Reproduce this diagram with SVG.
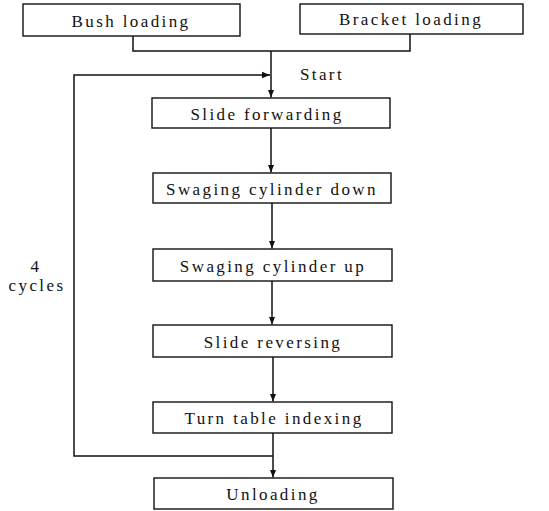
<svg xmlns="http://www.w3.org/2000/svg" width="549" height="511" viewBox="0 0 549 511">
<defs>
<marker id="ah" markerWidth="8" markerHeight="8" refX="8" refY="4" orient="auto" markerUnits="userSpaceOnUse">
<path d="M0,0.8 L8,4 L0,7.2 Z" fill="#111"/>
</marker>
<style>
.box{fill:#fff;stroke:#111;stroke-width:1.4}
.t{font-family:"Liberation Serif","Times New Roman",serif;font-size:17px;letter-spacing:2.4px;fill:#111;text-anchor:middle}
.c{fill:none;stroke:#111;stroke-width:1.5}
</style>
</defs>
<rect width="549" height="511" fill="#fff"/>
<g id="connectors">
<polyline class="c" points="133,36 133,51 410,51 410,34"/>
<line class="c" x1="271" y1="51" x2="271" y2="97.5" marker-end="url(#ah)"/>
<polyline class="c" points="273,456 74,456 74,75 270,75" marker-end="url(#ah)"/>
<line class="c" x1="271" y1="128" x2="271" y2="172.5" marker-end="url(#ah)"/>
<line class="c" x1="272" y1="203" x2="272" y2="248.5" marker-end="url(#ah)"/>
<line class="c" x1="272" y1="281" x2="272" y2="324.5" marker-end="url(#ah)"/>
<line class="c" x1="273" y1="357" x2="273" y2="401.5" marker-end="url(#ah)"/>
<line class="c" x1="273" y1="433" x2="273" y2="477.5" marker-end="url(#ah)"/>
<text class="t" x="322" y="80">Start</text>
<text class="t" x="36" y="272">4</text>
<text class="t" x="37" y="291">cycles</text>
</g>
<g id="bush"><rect class="box" x="23" y="4" width="217" height="32"/><text class="t" x="131" y="27">Bush loading</text></g>
<g id="bracket"><rect class="box" x="300" y="4" width="223" height="30"/><text class="t" x="411" y="25">Bracket loading</text></g>
<g id="slidefwd"><rect class="box" x="152" y="98" width="238" height="30"/><text class="t" x="267" y="120">Slide forwarding</text></g>
<g id="swdown"><rect class="box" x="153" y="173" width="238" height="30"/><text class="t" x="272" y="195">Swaging cylinder down</text></g>
<g id="swup"><rect class="box" x="153" y="249" width="239" height="32"/><text class="t" x="273" y="272">Swaging cylinder up</text></g>
<g id="sliderev"><rect class="box" x="153" y="325" width="239" height="32"/><text class="t" x="273" y="348">Slide reversing</text></g>
<g id="turn"><rect class="box" x="153" y="402" width="239" height="31"/><text class="t" x="274" y="424">Turn table indexing</text></g>
<g id="unload"><rect class="box" x="154" y="478" width="239" height="31"/><text class="t" x="273" y="500">Unloading</text></g>
</svg>
